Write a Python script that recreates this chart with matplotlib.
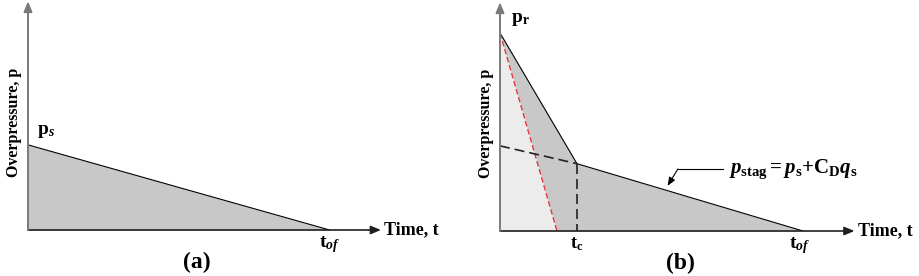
"""
Schema des profils de surpression : (a) onde libre, (b) face avant avec
stagnation (p_r -> p_stag a t_c).
"""
import matplotlib
matplotlib.use("Agg")
import matplotlib.pyplot as plt

plt.rcParams["font.family"] = ["Liberation Serif", "DejaVu Serif"]
plt.rcParams["font.weight"] = "bold"
plt.rcParams["mathtext.fontset"] = "custom"
plt.rcParams["mathtext.rm"] = "Liberation Serif:bold"
plt.rcParams["mathtext.bf"] = "Liberation Serif:bold"
plt.rcParams["mathtext.it"] = "Liberation Serif:italic:bold"

# (a) profil libre, temps normalise par t_of, pression par p_r
t_a = [0.0, 1.0]
p_a = [0.43, 0.0]

# (b) profil reflechi
t_b = [0.0, 0.254, 1.0]
p_b = [1.0, 0.34, 0.0]
t_stag = [0.0, 0.254]
p_stag = [0.43, 0.34]
t_red = [0.0, 0.188]
p_red = [1.0, 0.0]
t_c = 0.254

GRAY = "#c8c8c8"
LIGHT = "#ececec"

fig = plt.figure(figsize=(9.2, 2.76), dpi=100)
H = 1.16 * 198 / 276
ax_a = fig.add_axes([28 / 920, 46 / 276, 362 / 920, H])
ax_b = fig.add_axes([500 / 920, 45 / 276, 363.6 / 920, H])


def draw_axes(ax):
    ax.set_xlim(0, 1.2)
    ax.set_ylim(0, 1.16)
    ax.axis("off")
    ax.annotate("", xy=(1.17, 0), xytext=(0, 0), annotation_clip=False,
                arrowprops=dict(arrowstyle="-|>,head_width=0.25,head_length=0.6",
                                color="#202020", lw=1.2, shrinkA=0, shrinkB=0))
    ax.annotate("", xy=(0, 1.155), xytext=(0, 0), annotation_clip=False,
                arrowprops=dict(arrowstyle="-|>,head_width=0.25,head_length=0.6",
                                color="#7a7a7a", lw=1.4, shrinkA=0, shrinkB=0))
    ax.text(1.18, 0, "Time, t", fontsize=13, va="center", ha="left",
            clip_on=False)
    ax.text(-0.045, 0.545, "Overpressure, p", fontsize=11.5, rotation=90,
            va="center", ha="center", clip_on=False)


# (a)
draw_axes(ax_a)
ax_a.fill_between(t_a, p_a, 0, color=GRAY, lw=0)
ax_a.plot(t_a, p_a, color="black", lw=0.8)
ax_a.text(0.03, 0.5, r"$\mathbf{p}_{\mathit{s}}$", fontsize=14, va="center")
ax_a.text(1.0, -0.075, r"$\mathbf{t}_{\mathit{of}}$", fontsize=14,
          ha="center", va="center")
ax_a.text(0.56, -0.165, "(a)", fontsize=17, ha="center", va="center",
          clip_on=False)

# (b)
draw_axes(ax_b)
ax_b.fill_between(t_b, p_b, 0, color=GRAY, lw=0)
ax_b.fill_between(t_red, p_red, 0, color=LIGHT, lw=0)
ax_b.plot(t_b, p_b, color="black", lw=0.8)
ax_b.plot(t_red, p_red, color="#e8383d", lw=1.0, ls=(0, (4, 2)))
ax_b.plot(t_stag, p_stag, color="#222222", lw=1.2, ls=(0, (6, 3)))
ax_b.plot([t_c, t_c], [p_stag[-1], 0], color="#222222", lw=1.2,
          ls=(0, (6, 3)))
ax_b.text(0.035, 1.07, r"$\mathbf{p}_{\mathbf{r}}$", fontsize=14, va="center")
ax_b.text(t_c, -0.065, r"$\mathbf{t}_{\mathrm{c}}$", fontsize=13,
          ha="center", va="center")
ax_b.text(0.99, -0.075, r"$\mathbf{t}_{\mathit{of}}$", fontsize=14,
          ha="center", va="center")
ax_b.text(0.595, -0.165, "(b)", fontsize=17, ha="center", va="center",
          clip_on=False)

# legende p_stag avec fleche coudee
ax_b.plot([0.735, 0.587], [0.313, 0.313], color="black", lw=0.8)
ax_b.annotate("", xy=(0.553, 0.228), xytext=(0.587, 0.313),
              arrowprops=dict(arrowstyle="-|>,head_width=0.2,head_length=0.5",
                              color="black", lw=0.8, shrinkA=0, shrinkB=0))
ax_b.text(0.755, 0.31,
          r"$\mathit{p}_{\mathrm{stag}}=\mathit{p}_{\mathrm{s}}"
          r"{+}\mathbf{C}_{\mathbf{D}}\mathit{q}_{\mathrm{s}}$",
          fontsize=15, va="center", ha="left")

fig.savefig("out.png", dpi=100)
